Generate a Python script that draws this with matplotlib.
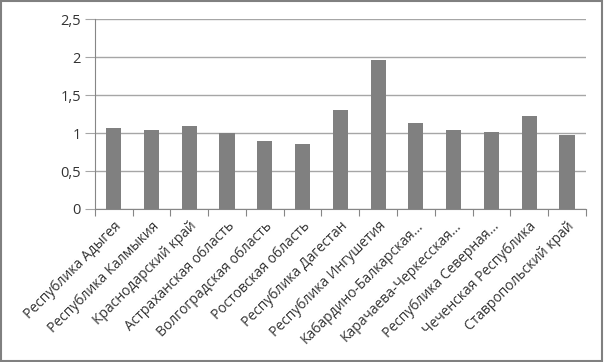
import matplotlib
matplotlib.use("Agg")
import matplotlib.pyplot as plt
import numpy as np

# regions and values
regions = [
    "Республика Адыгея",
    "Республика Калмыкия",
    "Краснодарский край",
    "Астраханская область",
    "Волгоградская область",
    "Ростовская область",
    "Республика Дагестан",
    "Республика Ингушетия",
    "Кабардино-Балкарская...",
    "Карачаева-Черкесская...",
    "Республика Северная...",
    "Чеченская Республика",
    "Ставропольский край",
]
values = [1.07, 1.045, 1.10, 1.00, 0.90, 0.85, 1.31, 1.97, 1.13, 1.045, 1.02, 1.23, 0.97]
yticks = [0, 0.5, 1, 1.5, 2, 2.5]
ytick_labels = ["0", "0,5", "1", "1,5", "2", "2,5"]

plt.rcParams['font.family'] = ['Open Sans', 'DejaVu Sans']

fig = plt.figure(figsize=(6.04, 3.62), dpi=100)
ax = fig.add_axes([0.157, 0.4227, 0.813, 0.524])

x = np.arange(len(regions))
ax.bar(x, values, width=0.4, color="#808080", zorder=3)

ax.set_xlim(-0.5, len(regions) - 0.5)
ax.set_ylim(0, 2.5)
ax.set_yticks(yticks)
ax.set_yticklabels(ytick_labels, fontsize=10.5, color="#333333")
ax.yaxis.grid(True, color="#a6a6a6", linewidth=1, zorder=0)
ax.tick_params(axis="y", length=7, color="#a6a6a6", pad=3)

# ticks between categories, labels under the bars
ax.set_xticks(np.arange(len(regions) + 1) - 0.5)
ax.set_xticklabels([])
ax.set_xticks(x, minor=True)
ax.set_xticklabels(regions, minor=True, rotation=45, ha="right",
                   rotation_mode="anchor", fontsize=10, color="#333333")
ax.tick_params(axis="x", which="major", length=5, color="#868686", direction="out")
ax.tick_params(axis="x", which="minor", length=0, pad=7)

for s in ["top", "right"]:
    ax.spines[s].set_visible(False)
ax.spines["left"].set_color("#868686")
ax.spines["bottom"].set_color("#868686")

# outer chart border
fig.patches.append(plt.Rectangle((0.002, 0.003), 0.995, 0.993, transform=fig.transFigure,
                                 fill=False, edgecolor="#808080", linewidth=1.5))

fig.savefig("out.png", dpi=100)
